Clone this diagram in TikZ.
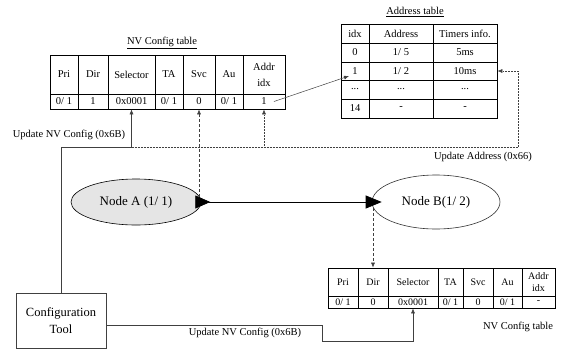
\documentclass[tikz,border=0pt]{standalone}
\usepackage{fontspec}
\setmainfont{Liberation Serif}
\usetikzlibrary{arrows.meta,shapes.geometric}
\newcommand{\tcell}[6]{\node[cellbox,minimum width={(#4-#2)*1pt},minimum height={(#5-#3)*1pt}] (#1) at ({(#2+#4)/2},{(#3+#5)/2}) {#6};}
\begin{document}
\begin{tikzpicture}[x=1pt,y=-1pt,
  cellfont/.style={font=\fontsize{10.5}{16}\selectfont},
  cellbox/.style={draw,line width=0.8pt,inner sep=0pt,align=center,cellfont},
  lbl/.style={inner sep=0pt,font=\fontsize{10.5}{12}\selectfont},
  conn/.style={line width=0.5pt,draw=black!75},
  dotconn/.style={conn,densely dotted},
  dashconn/.style={conn,dash pattern=on 3pt off 2pt},
  tip/.style={-{Latex[length=5pt,width=4pt]}},
  ell/.style={ellipse,draw,line width=0.6pt,inner sep=0pt,font=\fontsize{13}{15}\selectfont}]
\useasboundingbox (0,0) rectangle (566,349);

% ---- top NV Config table
\node[lbl] (ttitle) at (162,43) {\underline{NV Config table}};
\tcell{tpri0}{50}{55}{78}{94}{Pri}
\tcell{tdir0}{78}{55}{108}{94}{Dir}
\tcell{tsel0}{108}{55}{155}{94}{Selector}
\tcell{tta0}{155}{55}{183}{94}{TA}
\tcell{tsvc0}{183}{55}{215}{94}{Svc}
\tcell{tau0}{215}{55}{243}{94}{Au}
\tcell{taddr0}{243}{55}{285}{94}{Addr\\idx}
\tcell{tpri1}{50}{94}{78}{109}{0/ 1}
\tcell{tdir1}{78}{94}{108}{109}{1}
\tcell{tsel1}{108}{94}{155}{109}{0x0001}
\tcell{tta1}{155}{94}{183}{109}{0/ 1}
\tcell{tsvc1}{183}{94}{215}{109}{0}
\tcell{tau1}{215}{94}{243}{109}{0/ 1}
\tcell{taddr1}{243}{94}{285}{109}{1}

% ---- Address table
\node[lbl] (atitle) at (415,12) {\underline{Address table}};
\tcell{aidx0}{341}{24}{369}{43}{idx}
\tcell{aad0}{369}{24}{433}{43}{Address}
\tcell{atm0}{433}{24}{497}{43}{Timers info.}
\tcell{aidx1}{341}{43}{369}{62}{0}
\tcell{aad1}{369}{43}{433}{62}{1/ 5}
\tcell{atm1}{433}{43}{497}{62}{5ms}
\tcell{aidx2}{341}{62}{369}{80}{1}
\tcell{aad2}{369}{62}{433}{80}{1/ 2}
\tcell{atm2}{433}{62}{497}{80}{10ms}
\tcell{aidx3}{341}{80}{369}{99}{...}
\tcell{aad3}{369}{80}{433}{99}{...}
\tcell{atm3}{433}{80}{497}{99}{...}
\tcell{aidx4}{341}{99}{369}{118}{14}
\tcell{aad4}{369}{99}{433}{118}{-}
\tcell{atm4}{433}{99}{497}{118}{-}

% ---- bottom NV Config table
\begin{scope}[cellfont/.style={font=\fontsize{10}{12}\selectfont}]
\tcell{bpri0}{328}{268}{358}{296}{Pri}
\tcell{bdir0}{358}{268}{388}{296}{Dir}
\tcell{bsel0}{388}{268}{438}{296}{Selector}
\tcell{bta0}{438}{268}{463}{296}{TA}
\tcell{bsvc0}{463}{268}{493}{296}{Svc}
\tcell{bau0}{493}{268}{522}{296}{Au}
\tcell{baddr0}{522}{268}{555}{296}{Addr\\idx}
\tcell{bpri1}{328}{296}{358}{308}{0/ 1}
\tcell{bdir1}{358}{296}{388}{308}{0}
\tcell{bsel1}{388}{296}{438}{308}{0x0001}
\tcell{bta1}{438}{296}{463}{308}{0/ 1}
\tcell{bsvc1}{463}{296}{493}{308}{0}
\tcell{bau1}{493}{296}{522}{308}{0/ 1}
\tcell{baddr1}{522}{296}{555}{308}{-}
\end{scope}
\node[lbl] (btitle) at (518,327) {NV Config table};

% ---- nodes
\node[ell,fill=black!10,minimum width=130pt,minimum height=46pt] (A) at (136,202) {Node A (1/ 1)};
\node[ell,fill=white,draw=black!80,minimum width=128pt,minimum height=54pt] (B) at (436,202) {Node B(1/ 2)};
\node[draw,line width=0.5pt,draw=black!75,minimum width=90pt,minimum height=55pt,inner sep=0pt,align=center,
      font=\fontsize{12.5}{17}\selectfont] (cfg) at (61,320.5) {Configuration\\Tool};

% ---- labels
\node[lbl] (l1) at (69,135) {Update NV Config (0x6B)};
\node[lbl] (l2) at (483,157) {Update Address (0x66)};
\node[lbl] (l3) at (245,333) {Update NV Config (0x6B)};

% ---- connectors
\coordinate (j1) at (61,147);
\coordinate (j2) at (518,147);
\draw[conn,tip] (cfg.north) -- (j1) -| (tsel1.south);
\draw[dotconn,tip] (tsel1.south |- j1) -- (j2) |- (atm2.east);
\draw[dotconn,tip] (taddr1.south |- j1) -- (taddr1.south);
\draw[dashconn,tip] (tsvc1.south |- A.east) -- (tsvc1.south);
\draw[conn,tip] ([xshift=10pt]taddr1.center) -- ([xshift=-6pt,yshift=-5pt]aidx2.center);
\draw[line width=0.7pt,{Triangle[reversed,length=15pt,width=13pt]}-{Triangle[length=16pt,width=13pt]}]
  ([xshift=-6pt]A.east) -- ([xshift=10pt]B.west);
\draw[dashconn,tip] (bdir0.north |- 0,208) -- (bdir0.north);
\coordinate (k1) at (322,325);
\coordinate (k2) at (322,341);
\draw[conn,tip] (cfg.east |- k1) -- (k1) -- (k2) -| (bsel1.south);
\end{tikzpicture}
\end{document}
